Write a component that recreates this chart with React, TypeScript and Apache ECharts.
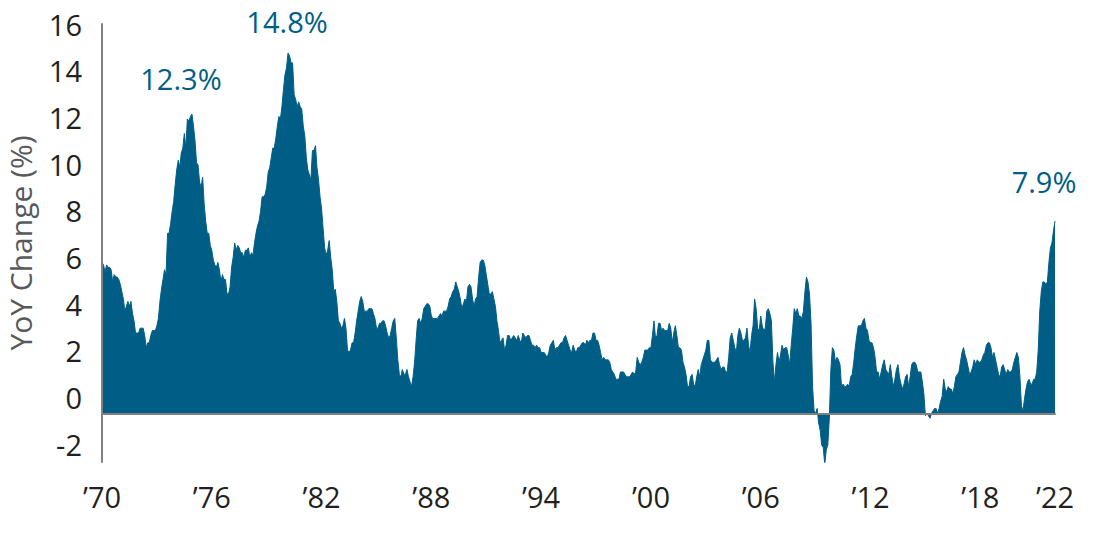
import React, { useEffect, useRef } from "react";
import * as echarts from "echarts";

// Monthly US CPI year-over-year change (%), Jan 1970 – Feb 2022
const y1970s = [
  6.2, 6.1, 5.8, 6.1, 6.0, 6.0, 5.9, 5.4, 5.7, 5.6, 5.6, 5.5,
  5.3, 5.0, 4.7, 4.2, 4.4, 4.6, 4.4, 4.6, 4.1, 3.8, 3.3, 3.3,
  3.3, 3.5, 3.5, 3.5, 3.2, 2.7, 2.9, 2.9, 3.2, 3.4, 3.4, 3.4,
  3.6, 3.9, 4.6, 5.1, 5.5, 5.9, 5.7, 7.4, 7.4, 7.8, 8.3, 8.7,
  9.4, 10.0, 10.4, 10.1, 10.7, 10.9, 11.5, 10.9, 12.1, 12.0, 12.2, 12.3,
  11.8, 11.2, 10.3, 10.2, 9.5, 9.3, 9.7, 8.6, 7.9, 7.4, 7.4, 6.9,
  6.7, 6.3, 6.1, 6.0, 6.2, 5.9, 5.4, 5.7, 5.5, 5.5, 4.9, 4.9,
  5.2, 6.0, 6.4, 7.0, 6.7, 6.9, 6.8, 6.6, 6.6, 6.4, 6.7, 6.7,
  6.8, 6.4, 6.6, 6.5, 7.0, 7.4, 7.7, 7.9, 8.3, 8.9, 8.9, 9.0,
  9.3, 9.9, 10.1, 10.5, 10.9, 10.9, 11.3, 11.8, 12.2, 12.1, 12.6, 13.3,
];
const y1980s = [
  13.9, 14.2, 14.8, 14.7, 14.4, 14.4, 13.1, 12.9, 12.6, 12.8, 12.6, 12.5,
  11.8, 11.4, 10.5, 10.0, 9.8, 9.6, 10.8, 10.8, 11.0, 10.1, 9.6, 8.9,
  8.4, 7.6, 6.8, 6.5, 6.7, 7.1, 6.4, 5.9, 5.0, 5.1, 4.6, 3.8,
  3.7, 3.5, 3.6, 3.9, 3.5, 2.6, 2.5, 2.6, 2.9, 2.9, 3.3, 3.8,
  4.2, 4.6, 4.8, 4.6, 4.2, 4.2, 4.2, 4.3, 4.3, 4.3, 4.1, 3.9,
  3.5, 3.5, 3.7, 3.7, 3.8, 3.8, 3.6, 3.3, 3.1, 3.2, 3.5, 3.8,
  3.9, 3.1, 2.2, 1.6, 1.5, 1.8, 1.6, 1.6, 1.8, 1.5, 1.3, 1.1,
  1.5, 2.1, 3.0, 3.8, 3.9, 3.7, 3.9, 4.3, 4.4, 4.5, 4.5, 4.4,
  4.0, 3.9, 3.9, 3.9, 3.9, 4.0, 4.1, 4.0, 4.2, 4.2, 4.2, 4.4,
  4.7, 4.8, 5.0, 5.1, 5.4, 5.2, 5.0, 4.7, 4.3, 4.5, 4.7, 4.6,
];
const y1990s = [
  5.2, 5.3, 5.2, 4.7, 4.4, 4.7, 4.8, 5.6, 6.2, 6.3, 6.3, 6.1,
  5.7, 5.3, 4.9, 4.9, 5.0, 4.7, 4.4, 3.8, 3.4, 2.9, 3.0, 3.1,
  2.6, 2.8, 3.2, 3.2, 3.0, 3.1, 3.2, 3.1, 3.0, 3.2, 3.0, 2.9,
  3.3, 3.2, 3.1, 3.2, 3.2, 3.0, 2.8, 2.8, 2.7, 2.8, 2.7, 2.7,
  2.5, 2.5, 2.5, 2.4, 2.3, 2.5, 2.8, 2.9, 3.0, 2.6, 2.7, 2.7,
  2.8, 2.9, 2.9, 3.1, 3.2, 3.0, 2.8, 2.6, 2.5, 2.8, 2.6, 2.5,
  2.7, 2.7, 2.8, 2.9, 2.9, 2.8, 3.0, 2.9, 3.0, 3.0, 3.3, 3.3,
  3.0, 3.0, 2.8, 2.5, 2.2, 2.3, 2.2, 2.2, 2.2, 2.1, 1.8, 1.7,
  1.6, 1.4, 1.4, 1.4, 1.7, 1.7, 1.7, 1.6, 1.5, 1.5, 1.5, 1.6,
  1.7, 1.6, 1.7, 2.3, 2.1, 2.0, 2.1, 2.3, 2.6, 2.6, 2.6, 2.7,
];
const y2000s = [
  2.7, 3.2, 3.8, 3.1, 3.2, 3.7, 3.7, 3.4, 3.5, 3.4, 3.4, 3.4,
  3.7, 3.5, 2.9, 3.3, 3.6, 3.2, 2.7, 2.7, 2.6, 2.1, 1.9, 1.6,
  1.1, 1.1, 1.5, 1.6, 1.2, 1.1, 1.5, 1.8, 1.5, 2.0, 2.2, 2.4,
  2.6, 3.0, 3.0, 2.2, 2.1, 2.1, 2.1, 2.2, 2.3, 2.0, 1.8, 1.9,
  1.9, 1.7, 1.7, 2.3, 3.1, 3.3, 3.0, 2.7, 2.5, 3.2, 3.5, 3.3,
  3.0, 3.0, 3.1, 3.5, 2.8, 2.5, 3.2, 3.6, 4.7, 4.3, 3.5, 3.4,
  4.0, 3.6, 3.4, 3.5, 4.2, 4.3, 4.1, 3.8, 2.1, 1.3, 2.0, 2.5,
  2.1, 2.4, 2.8, 2.6, 2.7, 2.7, 2.4, 2.0, 2.8, 3.5, 4.3, 4.1,
  4.3, 4.0, 4.0, 3.9, 4.2, 5.0, 5.6, 5.4, 4.9, 3.7, 1.1, 0.1,
  0.0, 0.2, -0.4, -0.7, -1.3, -1.4, -2.1, -1.5, -1.3, -0.2, 1.8, 2.7,
];
const y2010s = [
  2.6, 2.1, 2.3, 2.2, 2.0, 1.1, 1.2, 1.1, 1.1, 1.2, 1.1, 1.5,
  1.6, 2.1, 2.7, 3.2, 3.6, 3.6, 3.6, 3.8, 3.9, 3.5, 3.4, 3.0,
  2.9, 2.9, 2.7, 2.3, 1.7, 1.7, 1.4, 1.7, 2.0, 2.2, 1.8, 1.7,
  1.6, 2.0, 1.5, 1.1, 1.4, 1.8, 2.0, 1.5, 1.2, 1.0, 1.2, 1.5,
  1.6, 1.1, 1.5, 2.0, 2.1, 2.1, 2.0, 1.7, 1.7, 1.7, 1.3, 0.8,
  -0.1, 0.0, -0.1, -0.2, 0.0, 0.1, 0.2, 0.2, 0.0, 0.2, 0.5, 0.7,
  1.4, 1.0, 0.9, 1.1, 1.0, 1.0, 0.8, 1.1, 1.5, 1.6, 1.7, 2.1,
  2.5, 2.7, 2.4, 2.2, 1.9, 1.6, 1.7, 1.9, 2.2, 2.0, 2.2, 2.1,
  2.1, 2.2, 2.4, 2.5, 2.8, 2.9, 2.9, 2.7, 2.3, 2.5, 2.2, 1.9,
  1.6, 1.5, 1.9, 2.0, 1.8, 1.6, 1.8, 1.7, 1.7, 1.8, 2.1, 2.3,
];
const y2020s = [
  2.5, 2.3, 1.5, 0.3, 0.1, 0.6, 1.0, 1.3, 1.4, 1.2, 1.2, 1.4,
  1.4, 1.7, 2.6, 4.2, 5.0, 5.4, 5.4, 5.3, 5.4, 6.2, 6.8, 7.0,
  7.5, 7.9,
];

const startYear = 1970;
const yTickLabels = [-2, 0, 2, 4, 6, 8, 10, 12, 14, 16];
const annotations = [
  { text: "12.3%", year: 1974, month: 12, value: 12.3 },
  { text: "14.8%", year: 1980, month: 3, value: 14.8 },
  { text: "7.9%", year: 2022, month: 2, value: 7.9 },
];

const values = [...y1970s, ...y1980s, ...y1990s, ...y2000s, ...y2010s, ...y2020s];
const categories = values.map((_, i) => {
  const y = startYear + Math.floor(i / 12);
  const m = (i % 12) + 1;
  return `${y}-${m < 10 ? "0" + m : m}`;
});

const FILL = "#005E86";
const FONT = "'Open Sans', 'Noto Sans', sans-serif";
const annOffsets: Record<string, [number, number]> = {
  "12.3%": [-11, -36],
  "14.8%": [-1, -32],
  "7.9%": [-11, -40],
};

export default function App() {
  const ref = useRef<HTMLDivElement>(null);
  useEffect(() => {
    if (!ref.current) return;
    const chart = echarts.init(ref.current, undefined, { renderer: "svg" });
    const lastIdx = values.length - 1;
    chart.setOption({
      animation: false,
      backgroundColor: "#ffffff",
      grid: {
        left: 102,
        right: 43,
        top: 24,
        bottom: 82,
        containLabel: false,
        outerBoundsMode: "none",
      },
      xAxis: {
        type: "category",
        data: categories,
        boundaryGap: false,
        z: 5,
        axisLine: { show: true, onZero: true, lineStyle: { color: "#808080", width: 2 } },
        axisTick: { show: false },
        splitLine: { show: false },
        axisLabel: {
          interval: (index: number) => index % 72 === 0 || index === lastIdx,
          formatter: (v: string) => "\u2019" + v.slice(2, 4),
          color: "#231f20",
          fontFamily: FONT,
          fontSize: 29,
          margin: 20,
        },
      },
      yAxis: [
        {
          type: "value",
          min: -2,
          max: 16,
          z: 5,
          axisLine: { show: true, lineStyle: { color: "#808080", width: 2 } },
          axisTick: { show: false },
          axisLabel: { show: false },
          splitLine: { show: false },
        },
        {
          type: "value",
          min: -2.77,
          max: 16,
          position: "left",
          axisLine: { show: false },
          axisTick: { show: false },
          splitLine: { show: false },
          axisLabel: {
            show: true,
            customValues: yTickLabels,
            color: "#231f20",
            fontFamily: FONT,
            fontSize: 29,
            margin: 20,
          },
          name: "YoY Change (%)",
          nameLocation: "middle",
          nameRotate: 90,
          nameGap: 66,
          nameTextStyle: { color: "#58595b", fontFamily: FONT, fontSize: 30, lineHeight: 32 },
        },
      ],
      series: [
        {
          type: "line",
          data: values,
          yAxisIndex: 0,
          showSymbol: false,
          symbol: "none",
          lineStyle: { color: FILL, width: 1 },
          itemStyle: { color: FILL },
          areaStyle: { color: FILL, opacity: 1 },
          z: 2,
          markPoint: {
            symbol: "circle",
            symbolSize: 1,
            itemStyle: { color: "rgba(0,0,0,0)" },
            label: {
              show: true,
              formatter: "{b}",
              color: FILL,
              fontFamily: FONT,
              fontSize: 29,
              position: "inside",
            },
            data: annotations.map((a) => {
              const idx = (a.year - startYear) * 12 + (a.month - 1);
              return {
                name: a.text,
                coord: [idx, a.value],
                label: { offset: annOffsets[a.text] },
              };
            }),
          },
        },
      ],
    });
    return () => chart.dispose();
  }, []);
  return (
    <div
      ref={ref}
      style={{ position: "fixed", left: 0, top: 0, width: 1098, height: 544, background: "#fff" }}
    />
  );
}
